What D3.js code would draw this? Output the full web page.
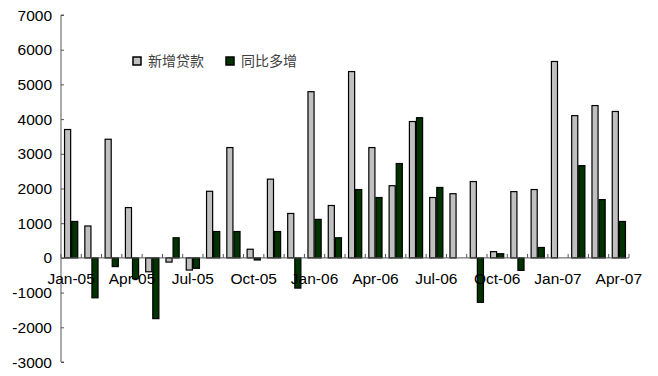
<!DOCTYPE html>
<meta charset="utf-8">
<html>
<style>
body { margin: 0; background: #fff; }
text { font-family: "Liberation Sans", Arial, sans-serif; }
.legend text { font-family: "Noto Sans CJK SC", sans-serif; fill: #404040; }
</style>
<svg width="658" height="376"></svg>
<script src="https://d3js.org/d3.v7.min.js"></script>
<script>
// months Jan-05 .. Apr-07
var months = ["Jan-05","Feb-05","Mar-05","Apr-05","May-05","Jun-05","Jul-05","Aug-05","Sep-05","Oct-05","Nov-05","Dec-05",
              "Jan-06","Feb-06","Mar-06","Apr-06","May-06","Jun-06","Jul-06","Aug-06","Sep-06","Oct-06","Nov-06","Dec-06",
              "Jan-07","Feb-07","Mar-07","Apr-07"];
var newLoans = [3700, 920, 3420, 1450, -400, -120, -350, 1920, 3180, 250, 2270, 1280,
                4790, 1510, 5370, 3180, 2080, 3930, 1740, 1850, 2200, 180, 1910, 1970,
                5660, 4100, 4390, 4220];
var yoyMore = [1050, -1150, -250, -600, -1750, 580, -300, 760, 760, -60, 760, -870,
               1110, 580, 1970, 1740, 2720, 4040, 2030, 0, -1280, 120, -360, 300,
               0, 2660, 1680, 1050];
var seriesNames = ["新增贷款", "同比多增"];
var seriesColors = ["#c0c0c0", "#003300"];
var yTicks = [-3000, -2000, -1000, 0, 1000, 2000, 3000, 4000, 5000, 6000, 7000];
var xLabels = ["Jan-05","Apr-05","Jul-05","Oct-05","Jan-06","Apr-06","Jul-06","Oct-06","Jan-07","Apr-07"];

var svg = d3.select("svg");
var plotL = 61, plotR = 629, plotT = 15, plotB = 362;

var y = d3.scaleLinear().domain([-3000, 7000]).range([plotB, plotT]);
var x0 = d3.scaleBand().domain(months).range([plotL, plotR]).paddingInner(0.3).paddingOuter(0.15);
var x1 = d3.scaleBand().domain([0, 1]).range([0, x0.bandwidth()]);

var data = months.map(function(m, i) { return {m: m, vals: [newLoans[i], yoyMore[i]]}; });

// bars
var groups = svg.append("g").selectAll("g")
    .data(data)
    .enter().append("g")
    .attr("transform", function(d) { return "translate(" + x0(d.m) + ",0)"; });
groups.selectAll("rect")
    .data(function(d) { return d.vals.map(function(v, k) { return {v: v, k: k}; }).filter(function(e) { return e.v !== 0; }); })
    .enter().append("rect")
    .attr("x", function(d) { return x1(d.k) + 0.5; })
    .attr("width", x1.bandwidth() - 1)
    .attr("y", function(d) { return Math.min(y(d.v), y(0)); })
    .attr("height", function(d) { return Math.abs(y(d.v) - y(0)); })
    .attr("fill", function(d) { return seriesColors[d.k]; })
    .attr("stroke", "#000")
    .attr("stroke-width", 1.2);

// y axis
var yAxis = svg.append("g").attr("transform", "translate(" + plotL + ",0)")
    .call(d3.axisRight(y).tickValues(yTicks).tickSize(3).tickFormat(""));
yAxis.select(".domain").attr("stroke", "#555").attr("d", "M3," + plotT + "H0V" + plotB + "H3");
yAxis.selectAll(".tick line").attr("stroke", "#555");
svg.append("g").selectAll("text")
    .data(yTicks)
    .enter().append("text")
    .attr("x", 52)
    .attr("y", function(d) { return y(d) + 5.5; })
    .attr("text-anchor", "end")
    .attr("font-size", 15.5)
    .attr("fill", "#000")
    .text(function(d) { return d; });

// x axis at zero
var step = x0.step();
var bounds = d3.range(months.length + 1).map(function(i) { return plotL + i * step; });
svg.append("line")
    .attr("x1", plotL).attr("x2", plotR)
    .attr("y1", y(0)).attr("y2", y(0))
    .attr("stroke", "#555");
svg.append("g").selectAll("line")
    .data(bounds)
    .enter().append("line")
    .attr("x1", function(d) { return d; }).attr("x2", function(d) { return d; })
    .attr("y1", y(0) - 4).attr("y2", y(0))
    .attr("stroke", "#555");
svg.append("g").selectAll("text")
    .data(xLabels)
    .enter().append("text")
    .attr("x", function(d) { return x0(d) + x0.bandwidth() / 2; })
    .attr("y", y(0) + 26)
    .attr("text-anchor", "middle")
    .attr("font-size", 15.5)
    .attr("fill", "#000")
    .text(function(d) { return d; });

// legend
var legend = svg.append("g").attr("class", "legend");
var legendX = [133, 226];
seriesNames.forEach(function(name, k) {
  legend.append("rect")
      .attr("x", legendX[k]).attr("y", 57)
      .attr("width", 8).attr("height", 8)
      .attr("fill", seriesColors[k])
      .attr("stroke", "#000").attr("stroke-width", 1.5);
  legend.append("text")
      .attr("x", legendX[k] + 15).attr("y", 66)
      .attr("font-size", 14)
      .text(name);
});
</script>
</html>
